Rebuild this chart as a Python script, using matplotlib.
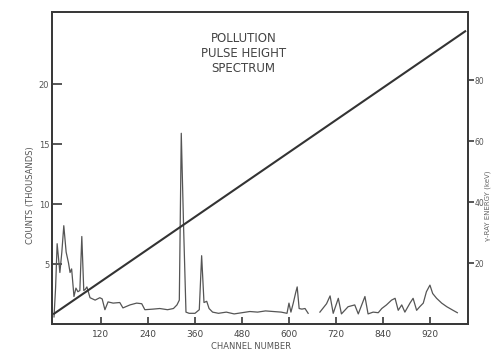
import numpy as np
import matplotlib
matplotlib.use("Agg")
import matplotlib.pyplot as plt

# pulse height spectrum (channel, counts in thousands)
channel = [0, 4, 8, 15, 20, 25, 31, 37, 41, 45,
           51, 56, 61, 66, 71, 76, 80, 84, 92, 105,
           117, 123, 130, 138, 151, 168, 176, 194, 211, 224,
           232, 253, 270, 290, 305, 314, 320, 325, 331, 337,
           345, 360, 371, 377, 383, 390, 396, 405, 420, 440,
           460, 480, 500, 520, 540, 560, 580, 595, 600, 605,
           611, 617, 621, 626, 633, 641, 649, 662, 679, 696,
           705, 713, 726, 734, 751, 768, 777, 794, 802, 815,
           828, 837, 849, 862, 871, 879, 888, 896, 909, 917,
           926, 934, 943, 951, 960, 967, 977, 990, 1003, 1019,
           1030]
counts = [0.6, 3.0, 6.7, 4.3, 6.0, 8.2, 6.0, 5.1, 4.3, 4.6,
          2.3, 3.0, 2.7, 2.8, 7.3, 2.8, 2.9, 3.1, 2.2, 2.0,
          2.2, 2.1, 1.2, 1.85, 1.75, 1.8, 1.35, 1.6, 1.75, 1.7,
          1.2, 1.25, 1.3, 1.2, 1.3, 1.6, 2.0, 15.9, 8.0, 1.0,
          0.9, 0.9, 1.2, 5.7, 1.8, 1.9, 1.3, 1.0, 0.9, 1.0,
          0.85, 0.95, 1.05, 1.0, 1.1, 1.05, 1.0, 0.9, 1.75, 1.0,
          1.75, 2.6, 3.1, 1.3, 1.25, 1.3, 0.9, np.nan, 1.0, 1.7,
          2.35, 0.9, 2.15, 0.85, 1.45, 1.6, 0.85, 2.3, 0.85, 1.0,
          0.95, 1.3, 1.6, 2.0, 2.15, 1.15, 1.6, 1.0, 1.75, 2.15,
          1.15, 1.45, 1.75, 2.7, 3.25, 2.55, 2.15, 1.75, 1.45, 1.15,
          0.95]

# energy calibration line (right axis)
calib_channel = [0, 1050]
calib_energy = [3.4, 96]

x_ticks = [120, 240, 360, 480, 600, 720, 840, 960]
x_labels = ["120", "240", "360", "480", "600", "720", "840", "920"]
y_ticks = [5, 10, 15, 20]
e_ticks = [20, 40, 60, 80]

ink = "#3a3a3a"
plt.rcParams["font.family"] = "DejaVu Sans"

fig = plt.figure(figsize=(4.91, 3.55), dpi=100)
ax = fig.add_axes([0.106, 0.087, 0.847, 0.879])
ax.plot(channel, counts, color="#555555", linewidth=0.9)
ax.set_xlim(-5, 1057)
ax.set_ylim(0, 26)
ax.set_xticks(x_ticks)
ax.set_xticklabels(x_labels)
ax.set_yticks(y_ticks)
ax.tick_params(axis="x", direction="in", length=5, width=1.2, color=ink,
               labelsize=6.5, labelcolor="#444444", pad=4)
ax.tick_params(axis="y", direction="in", length=7, width=1.2, color=ink,
               labelsize=6, labelcolor="#555555", pad=2)
for s in ax.spines.values():
    s.set_color(ink)
    s.set_linewidth(1.4)

ax2 = ax.twinx()
ax2.plot(calib_channel, calib_energy, color="#333333", linewidth=1.5)
ax2.set_ylim(0, 102.3)
ax2.set_yticks(e_ticks)
ax2.tick_params(axis="y", direction="out", length=4, width=1.2, color=ink,
                labelsize=5.5, labelcolor="#555555", pad=0.5)
for s in ax2.spines.values():
    s.set_color(ink)
    s.set_linewidth(1.4)

ax.text(0.46, 0.935, "POLLUTION\nPULSE HEIGHT\nSPECTRUM", transform=ax.transAxes,
        ha="center", va="top", fontsize=8.5, color="#444444", linespacing=1.2)

fig.text(0.511, 0.012, "CHANNEL NUMBER", ha="center", va="bottom",
         fontsize=6, color="#555555")
fig.text(0.063, 0.45, "COUNTS (THOUSANDS)", rotation=90, ha="center",
         va="center", fontsize=6, color="#555555")
fig.text(0.994, 0.42, "γ-RAY ENERGY (keV)", rotation=90, ha="center",
         va="center", fontsize=5, color="#666666")

fig.savefig("out.png", dpi=100)
